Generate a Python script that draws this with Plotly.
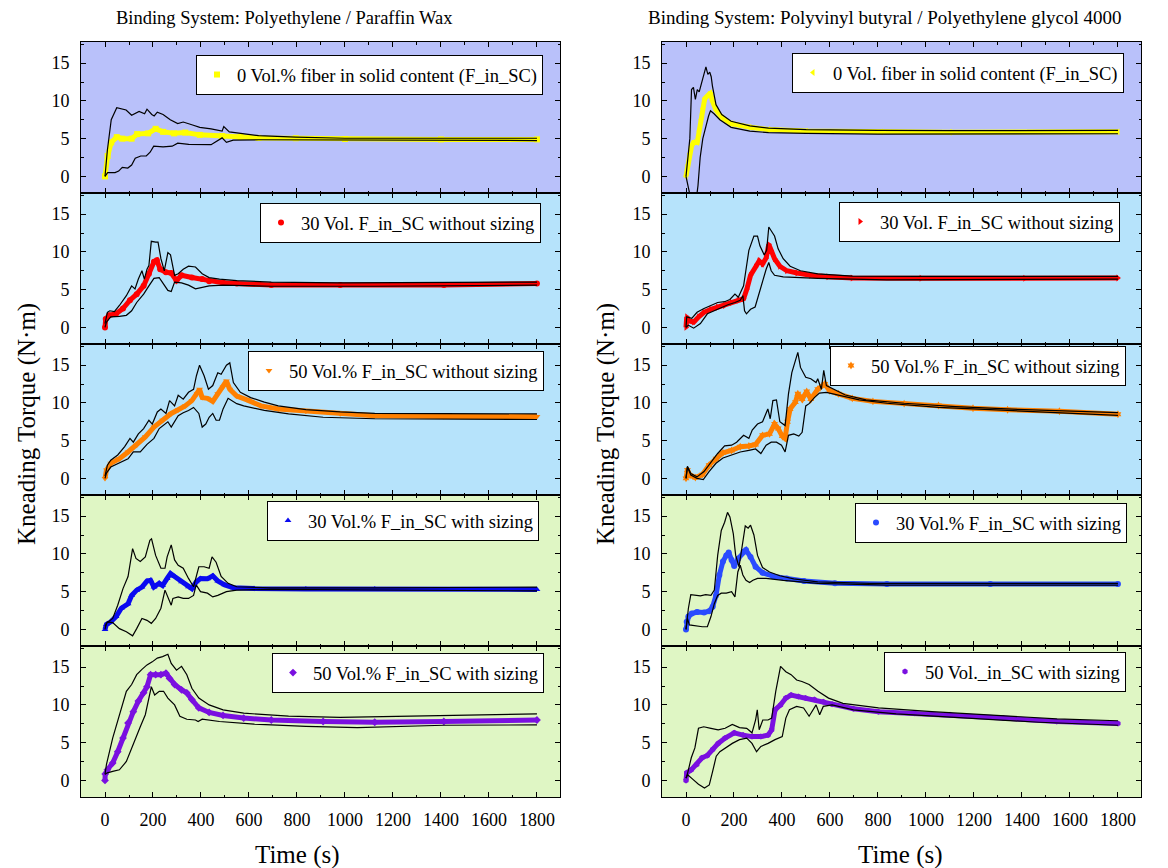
import plotly.graph_objects as go

W, H = 1168, 868
FONT = "Liberation Serif"

# ---------------- Binding system PE / paraffin wax (left column) ----------------
pe00_t = [0, 11, 26, 49, 72, 111, 134, 180, 211, 242, 288, 334, 395, 488, 565, 640, 795, 1000, 1400, 1800]
pe00_v = [0, 2.7, 4.5, 5.2, 5.0, 5.0, 5.6, 5.7, 6.3, 5.9, 5.7, 5.8, 5.5, 5.35, 5.25, 5.1, 5.05, 4.95, 4.9, 4.9]
pe00_hi_t = [0, 10, 26, 49, 88, 111, 142, 165, 175, 195, 205, 218, 242, 272, 303, 326, 365, 395, 442, 488, 495, 518, 565, 640, 795, 1000, 1800]
pe00_hi_v = [0, 3.5, 7.5, 9.1, 8.8, 8.1, 8.6, 8.3, 8.9, 8.2, 8.0, 8.5, 8.2, 7.5, 7.0, 7.2, 6.8, 6.5, 6.3, 6.0, 6.6, 5.9, 5.7, 5.4, 5.2, 5.05, 5.05]
pe00_lo_t = [0, 11, 42, 57, 72, 95, 111, 126, 149, 172, 188, 203, 242, 280, 303, 349, 442, 465, 488, 506, 534, 640, 1000, 1800]
pe00_lo_v = [0, 0.5, 0.5, 0.7, 1.2, 1.1, 1.5, 2.4, 2.7, 2.7, 3.2, 4.0, 3.9, 4.0, 4.4, 4.25, 4.2, 4.6, 5.1, 4.5, 4.8, 4.85, 4.8, 4.75]

pe30_t = [0, 3, 17, 46, 75, 104, 132, 161, 183, 204, 216, 230, 254, 276, 298, 319, 362, 405, 434, 492, 549, 693, 980, 1412, 1800]
pe30_v = [0, 1.1, 1.6, 1.8, 2.5, 3.6, 4.4, 5.5, 7.1, 8.7, 8.9, 7.7, 7.3, 7.2, 6.2, 6.9, 6.6, 6.4, 6.1, 5.9, 5.8, 5.6, 5.6, 5.6, 5.8]
pe30_hi_t = [0, 10, 20, 39, 60, 89, 111, 125, 139, 154, 164, 175, 183, 193, 211, 221, 233, 247, 262, 273, 290, 305, 326, 348, 377, 405, 434, 477, 549, 693, 980, 1800]
pe30_hi_v = [0.5, 2.0, 2.2, 2.1, 2.9, 4.2, 5.5, 5.1, 6.4, 7.5, 6.4, 7.7, 8.2, 11.4, 11.3, 11.3, 9.1, 7.5, 9.9, 9.6, 6.9, 7.1, 7.7, 8.1, 8.0, 7.1, 6.6, 6.4, 6.2, 6.0, 5.9, 6.0]
pe30_lo_t = [0, 6, 24, 60, 89, 111, 132, 161, 183, 204, 226, 240, 262, 276, 290, 319, 348, 377, 405, 434, 492, 693, 1124, 1800]
pe30_lo_v = [0, 0.7, 1.4, 1.45, 1.6, 2.2, 3.3, 4.4, 5.5, 6.5, 6.6, 6.0, 4.9, 4.75, 6.0, 5.9, 5.6, 5.1, 5.3, 5.5, 5.6, 5.45, 5.45, 5.6]

pe50_t = [0, 6, 24, 60, 96, 132, 168, 204, 240, 276, 305, 334, 362, 384, 394, 405, 427, 449, 470, 492, 506, 520, 549, 592, 650, 722, 837, 980, 1124, 1412, 1800]
pe50_v = [0, 1.1, 2.0, 2.6, 3.5, 4.4, 5.5, 6.8, 7.7, 8.6, 9.1, 9.6, 10.3, 11.2, 11.8, 10.7, 10.6, 10.2, 11.2, 12.1, 12.9, 11.8, 10.9, 10.4, 9.6, 9.2, 8.9, 8.55, 8.3, 8.2, 8.2]
pe50_hi_t = [0, 10, 24, 53, 82, 104, 118, 139, 161, 183, 197, 218, 233, 254, 269, 290, 305, 326, 348, 369, 381, 394, 413, 431, 449, 470, 484, 506, 520, 535, 564, 607, 664, 722, 837, 980, 1124, 1800]
pe50_hi_v = [0.3, 1.75, 2.4, 3.1, 4.2, 5.3, 4.8, 5.9, 6.6, 7.7, 7.2, 8.8, 9.2, 8.6, 10.3, 9.6, 11.0, 10.5, 11.4, 11.8, 13.6, 15.0, 13.6, 11.8, 12.3, 14.0, 13.8, 15.0, 15.3, 12.7, 11.4, 10.7, 10.1, 9.6, 9.1, 8.8, 8.6, 8.55]
pe50_lo_t = [0, 6, 24, 60, 96, 118, 147, 175, 204, 226, 244, 262, 276, 290, 305, 326, 348, 369, 391, 405, 420, 434, 449, 463, 477, 492, 513, 549, 578, 664, 765, 909, 1124, 1800]
pe50_lo_v = [0, 0.7, 1.5, 2.0, 2.6, 3.5, 3.5, 4.5, 5.3, 6.6, 7.0, 7.5, 6.8, 7.5, 8.3, 8.7, 9.0, 9.4, 8.6, 6.8, 7.2, 8.1, 8.6, 7.7, 7.7, 9.2, 10.6, 9.9, 9.6, 9.0, 8.55, 8.1, 7.9, 7.8]

pe30s_t = [0, 6, 24, 46, 68, 96, 111, 132, 154, 175, 190, 204, 226, 240, 259, 273, 290, 319, 348, 362, 380, 398, 427, 449, 470, 499, 535, 621, 837, 1124, 1800]
pe30s_v = [0, 0.65, 1.0, 1.7, 2.8, 3.4, 4.5, 5.2, 5.6, 6.4, 6.5, 5.6, 6.1, 5.8, 6.75, 7.4, 7.0, 6.3, 5.65, 5.4, 6.3, 6.75, 6.7, 7.1, 6.4, 5.9, 5.5, 5.4, 5.35, 5.35, 5.3]
pe30s_hi_t = [0, 6, 32, 53, 75, 96, 115, 129, 147, 168, 187, 194, 211, 233, 250, 259, 276, 290, 305, 326, 348, 369, 391, 413, 434, 446, 463, 484, 513, 549, 693, 1124, 1800]
pe30s_hi_v = [0, 0.8, 1.45, 3.2, 5.4, 7.0, 10.7, 9.4, 9.0, 9.6, 11.8, 12.0, 9.8, 8.1, 8.1, 9.6, 11.2, 9.2, 8.5, 8.1, 6.75, 5.65, 8.3, 8.3, 8.1, 9.6, 8.9, 7.0, 6.1, 5.65, 5.5, 5.5, 5.6]
pe30s_lo_t = [0, 10, 32, 60, 89, 115, 132, 154, 175, 193, 211, 233, 250, 262, 276, 283, 305, 326, 348, 369, 380, 398, 427, 449, 470, 506, 549, 693, 1124, 1800]
pe30s_lo_v = [0.4, 1.0, 0.9, 0.1, -0.3, -0.85, 0.1, 1.45, 1.2, 0.8, 1.45, 2.8, 5.2, 4.3, 3.2, 4.1, 4.3, 4.1, 4.1, 4.5, 5.9, 5.0, 4.8, 4.3, 4.5, 5.0, 5.2, 5.3, 5.2, 5.1]

pe50s_t = [0, 1, 10, 32, 53, 75, 96, 118, 139, 161, 175, 190, 211, 233, 254, 269, 290, 319, 341, 362, 391, 434, 492, 578, 693, 909, 1124, 1412, 1800]
pe50s_v = [0, 0.85, 1.4, 2.3, 3.8, 5.6, 7.6, 9.1, 10.5, 11.6, 12.4, 14.0, 14.0, 14.0, 14.2, 13.5, 12.7, 12.0, 11.6, 10.7, 9.6, 9.0, 8.6, 8.25, 8.0, 7.8, 7.7, 7.8, 8.0]
pe50s_hi_t = [0, 6, 32, 60, 89, 111, 132, 154, 175, 197, 218, 240, 262, 276, 298, 319, 341, 362, 391, 434, 492, 578, 765, 980, 1268, 1800]
pe50s_hi_v = [0.8, 2.1, 5.6, 8.5, 11.8, 12.7, 14.0, 14.7, 15.3, 15.7, 16.2, 16.4, 16.7, 15.5, 14.6, 15.1, 14.0, 12.2, 10.9, 10.0, 9.35, 8.9, 8.5, 8.35, 8.5, 8.8]
pe50s_lo_t = [0, 10, 32, 60, 89, 118, 147, 168, 183, 193, 207, 226, 244, 262, 290, 312, 341, 377, 388, 405, 477, 621, 837, 1052, 1412, 1800]
pe50s_lo_v = [0.8, 1.0, 1.2, 1.4, 2.5, 4.9, 7.1, 8.7, 11.1, 12.4, 11.3, 11.8, 11.8, 10.9, 10.0, 8.5, 8.1, 8.0, 7.8, 8.1, 7.8, 7.45, 7.15, 7.0, 7.3, 7.35]

# ---------------- Binding system PVB / PEG 4000 (right column) ----------------
pvb00_t = [0, 8, 16, 23, 31, 47, 55, 63, 70, 78, 94, 102, 110, 125, 149, 188, 266, 344, 501, 814, 1100, 1800]
pvb00_v = [0, 1.5, 3.0, 4.0, 4.5, 4.5, 6.0, 7.5, 9.0, 10.3, 10.8, 11.1, 10.0, 8.8, 7.8, 7.0, 6.5, 6.2, 6.0, 5.9, 5.85, 5.9]
pvb00_hi_t = [0, 16, 23, 31, 39, 47, 55, 63, 70, 83, 91, 99, 105, 110, 125, 149, 188, 266, 344, 501, 800, 1100, 1800]
pvb00_hi_v = [0, 5.0, 11.5, 11.8, 10.2, 11.5, 11.2, 12.2, 13.0, 14.5, 13.5, 13.8, 13.2, 12.0, 9.5, 8.2, 7.3, 6.7, 6.4, 6.2, 6.1, 6.05, 6.1]
pvb00_lo_t = [0, 11, 20, 35, 45, 50, 59, 70, 81, 94, 102, 117, 141, 188, 266, 344, 501, 800, 1800]
pvb00_lo_v = [0, -1.5, -3.0, -3.5, -2.5, -1.2, 2.5, 5.0, 6.5, 8.0, 8.7, 8.3, 7.5, 6.5, 6.0, 5.8, 5.7, 5.6, 5.65]

pvb30_t = [0, 3, 10, 32, 53, 75, 104, 132, 161, 190, 218, 240, 254, 269, 290, 305, 319, 334, 345, 355, 369, 391, 420, 463, 520, 592, 693, 980, 1412, 1800]
pvb30_v = [0, 1.4, 0.9, 0.7, 1.4, 2.0, 2.4, 2.7, 2.9, 3.3, 3.6, 3.8, 5.1, 6.9, 8.0, 8.8, 8.4, 9.2, 11.0, 10.2, 9.1, 8.1, 7.5, 7.2, 6.9, 6.7, 6.55, 6.5, 6.5, 6.55]
pvb30_hi_t = [0, 3, 24, 46, 75, 104, 132, 161, 183, 204, 218, 240, 262, 283, 298, 308, 326, 336, 345, 359, 369, 384, 405, 434, 477, 549, 693, 980, 1800]
pvb30_hi_v = [0, 1.4, 1.2, 2.0, 2.5, 2.9, 3.3, 3.4, 3.7, 4.4, 4.0, 5.5, 10.2, 12.1, 12.1, 10.8, 9.6, 10.2, 13.3, 12.6, 12.1, 10.4, 9.1, 8.1, 7.5, 7.1, 6.8, 6.75, 6.75]
pvb30_lo_t = [0, 10, 32, 60, 89, 118, 147, 175, 204, 226, 237, 244, 252, 269, 288, 302, 319, 334, 345, 355, 369, 405, 549, 837, 1800]
pvb30_lo_v = [0, 0.3, -0.1, 0.5, 1.8, 2.2, 2.7, 3.0, 3.3, 3.6, 4.2, 2.2, 1.8, 2.4, 2.7, 4.2, 6.2, 7.7, 8.6, 7.5, 6.9, 6.7, 6.5, 6.3, 6.4]

pvb50_t = [0, 6, 17, 39, 68, 96, 125, 154, 190, 226, 262, 290, 319, 348, 369, 384, 401, 413, 423, 434, 456, 466, 484, 503, 520, 549, 578, 599, 635, 693, 779, 909, 1052, 1196, 1340, 1556, 1800]
pvb50_v = [0, 1.1, 0.4, 0.1, 0.5, 1.75, 2.6, 3.4, 3.7, 4.2, 4.3, 4.5, 5.7, 5.9, 7.2, 6.6, 5.6, 5.3, 7.5, 9.2, 10.1, 11.2, 10.5, 11.5, 10.5, 11.8, 12.5, 11.6, 11.2, 10.6, 10.2, 9.9, 9.65, 9.3, 9.1, 8.9, 8.5]
pvb50_hi_t = [0, 6, 20, 46, 75, 104, 132, 161, 190, 211, 240, 262, 276, 298, 319, 341, 351, 362, 377, 391, 413, 427, 441, 466, 477, 499, 520, 542, 549, 564, 574, 585, 614, 664, 750, 909, 1124, 1412, 1800]
pvb50_hi_v = [0, 1.6, 0.65, 0.2, 0.9, 2.2, 3.3, 4.3, 4.4, 4.8, 5.7, 5.3, 6.4, 7.2, 7.5, 9.2, 7.9, 10.3, 10.4, 7.5, 7.0, 11.2, 14.0, 16.7, 14.7, 13.4, 13.2, 12.7, 13.2, 11.8, 14.3, 12.3, 11.8, 11.05, 10.4, 9.95, 9.5, 9.1, 8.7]
pvb50_lo_t = [0, 6, 20, 46, 72, 96, 125, 154, 190, 226, 262, 290, 312, 334, 355, 377, 398, 413, 427, 449, 470, 484, 499, 513, 535, 556, 585, 635, 722, 837, 1052, 1340, 1800]
pvb50_lo_v = [0, 1.5, 0.45, 0, -0.15, 0.9, 2.0, 2.7, 3.1, 3.5, 3.7, 3.9, 3.3, 4.4, 4.8, 4.8, 4.4, 3.5, 5.7, 5.9, 5.6, 6.1, 9.6, 9.9, 10.7, 11.3, 11.4, 11.05, 10.4, 9.95, 9.4, 9.0, 8.35]

pvb30s_t = [0, 3, 10, 24, 46, 75, 96, 111, 125, 139, 154, 168, 178, 190, 201, 218, 240, 250, 269, 290, 319, 362, 420, 492, 621, 837, 1268, 1800]
pvb30s_v = [0, 1.0, 1.7, 2.1, 2.3, 2.25, 2.4, 3.0, 4.5, 7.2, 9.0, 9.8, 10.2, 9.2, 8.4, 9.4, 10.3, 10.5, 9.6, 8.3, 7.5, 7.05, 6.75, 6.4, 6.1, 6.0, 6.0, 6.0]
pvb30s_hi_t = [0, 10, 20, 39, 60, 82, 104, 118, 132, 147, 161, 173, 183, 197, 207, 221, 236, 247, 259, 269, 283, 298, 319, 348, 391, 449, 549, 765, 1800]
pvb30s_hi_v = [0, 2.8, 4.6, 4.5, 4.45, 4.6, 4.5, 5.2, 9.8, 13.1, 14.2, 15.5, 14.9, 12.7, 9.8, 8.3, 11.8, 13.7, 13.4, 13.8, 12.5, 9.8, 8.2, 7.6, 7.1, 6.7, 6.3, 6.1, 6.1]
pvb30s_lo_t = [0, 6, 14, 39, 68, 89, 104, 118, 132, 147, 168, 190, 204, 216, 226, 237, 250, 265, 279, 298, 334, 405, 549, 837, 1800]
pvb30s_lo_v = [0, 1.45, 0.6, 0.45, 0.35, 0.35, 1.7, 3.4, 4.5, 4.8, 4.8, 5.0, 4.3, 7.6, 8.5, 7.2, 6.5, 6.2, 6.5, 6.75, 6.75, 6.5, 6.1, 5.85, 5.85]

pvb50s_t = [0, 3, 22, 45, 67, 89, 111, 134, 163, 201, 238, 275, 312, 342, 357, 371, 394, 416, 438, 468, 498, 535, 572, 609, 698, 802, 951, 1100, 1322, 1545, 1800]
pvb50s_v = [0, 1.0, 1.4, 2.1, 3.0, 3.3, 4.1, 4.9, 5.6, 6.3, 6.0, 5.8, 5.8, 6.0, 6.7, 9.35, 10.0, 10.9, 11.3, 11.1, 10.9, 10.7, 10.4, 10.1, 9.5, 9.1, 8.9, 8.7, 8.25, 7.8, 7.55]
pvb50s_hi_t = [0, 7, 22, 37, 52, 74, 104, 134, 163, 193, 223, 253, 275, 290, 297, 305, 320, 342, 357, 374, 394, 416, 438, 461, 483, 513, 550, 594, 654, 802, 1025, 1322, 1545, 1800]
pvb50s_hi_v = [0.3, 1.0, 3.0, 4.3, 6.9, 7.1, 6.9, 6.7, 6.9, 7.4, 7.0, 6.9, 6.3, 8.0, 9.35, 6.7, 8.0, 8.0, 8.25, 11.8, 15.1, 14.4, 14.0, 13.3, 13.1, 12.7, 11.8, 10.9, 10.2, 9.6, 9.1, 8.6, 8.15, 7.9]
pvb50s_lo_t = [0, 7, 30, 52, 77, 97, 111, 126, 141, 163, 193, 223, 253, 275, 294, 312, 342, 371, 401, 416, 431, 461, 490, 513, 542, 557, 572, 609, 698, 876, 1174, 1471, 1800]
pvb50s_lo_v = [0.3, 0.75, 0.1, -0.5, -1.0, -0.6, 1.2, 3.2, 3.8, 4.3, 4.9, 5.4, 5.6, 4.9, 3.8, 4.5, 4.9, 5.4, 5.8, 8.25, 9.35, 9.8, 9.6, 8.5, 10.0, 8.7, 9.8, 10.0, 9.35, 8.8, 8.25, 7.7, 7.3]

# ---------------- panel descriptions ----------------
left_names = [
    "0 Vol.% fiber in solid content (F_in_SC)",
    "30 Vol. F_in_SC without sizing",
    "50 Vol.% F_in_SC without sizing",
    "30 Vol.% F_in_SC with sizing",
    "50 Vol.% F_in_SC with sizing",
]
right_names = [
    "0 Vol. fiber in solid content (F_in_SC)",
    "30 Vol. F_in_SC without sizing",
    "50 Vol.% F_in_SC without sizing",
    "30 Vol.% F_in_SC with sizing",
    "50 Vol._in_SC with sizing",
]
left_series = [
    (pe00_t, pe00_v, pe00_hi_t, pe00_hi_v, pe00_lo_t, pe00_lo_v),
    (pe30_t, pe30_v, pe30_hi_t, pe30_hi_v, pe30_lo_t, pe30_lo_v),
    (pe50_t, pe50_v, pe50_hi_t, pe50_hi_v, pe50_lo_t, pe50_lo_v),
    (pe30s_t, pe30s_v, pe30s_hi_t, pe30s_hi_v, pe30s_lo_t, pe30s_lo_v),
    (pe50s_t, pe50s_v, pe50s_hi_t, pe50s_hi_v, pe50s_lo_t, pe50s_lo_v),
]
right_series = [
    (pvb00_t, pvb00_v, pvb00_hi_t, pvb00_hi_v, pvb00_lo_t, pvb00_lo_v),
    (pvb30_t, pvb30_v, pvb30_hi_t, pvb30_hi_v, pvb30_lo_t, pvb30_lo_v),
    (pvb50_t, pvb50_v, pvb50_hi_t, pvb50_hi_v, pvb50_lo_t, pvb50_lo_v),
    (pvb30s_t, pvb30s_v, pvb30s_hi_t, pvb30s_hi_v, pvb30s_lo_t, pvb30s_lo_v),
    (pvb50s_t, pvb50s_v, pvb50s_hi_t, pvb50s_hi_v, pvb50s_lo_t, pvb50s_lo_v),
]
row_colors = ["#FFFF00", "#FF0000", "#FF8000", "#0A0AF0", "#7A10E0"]
right_colors = ["#FFFF00", "#FF0000", "#FF8000", "#2A4BFF", "#7A10E0"]
left_symbols = ["square", "circle", "triangle-down", "triangle-up", "diamond"]
right_symbols = ["triangle-left", "triangle-right", "hexagram", "circle", "hexagon"]
panel_bg = ["#B9C1FA", "#B6E3FB", "#B6E3FB", "#DFF6C4", "#DFF6C4"]

# legend boxes: right edge / top edge in pixels
left_leg = [(543, 55), (541, 203), (544, 351), (539, 501), (544, 653)]
right_leg = [(1124, 53), (1120, 202), (1126, 346), (1127, 503), (1126, 652)]

# ---------------- geometry ----------------
X_DOM = [[81 / W, 560 / W], [662 / W, 1141 / W]]
PANEL_TOP0, PANEL_H = 42, 151
TICK_FONT = dict(family=FONT, size=18, color="black")


def y_dom(i):
    top = PANEL_TOP0 + PANEL_H * i
    return [1 - (top + PANEL_H) / H, 1 - top / H]


fig = go.Figure()
layout = dict(
    width=W, height=H,
    margin=dict(l=0, r=0, t=0, b=0),
    paper_bgcolor="white",
    plot_bgcolor="rgba(0,0,0,0)",
    font=dict(family=FONT, size=16, color="black"),
    shapes=[], annotations=[],
)

for c in range(2):
    names = left_names if c == 0 else right_names
    series = left_series if c == 0 else right_series
    colors = row_colors if c == 0 else right_colors
    symbols = left_symbols if c == 0 else right_symbols
    legpos = left_leg if c == 0 else right_leg
    for i in range(5):
        k = c * 5 + i + 1
        sx = "" if k == 1 else str(k)
        xname, yname, lname = "x" + sx, "y" + sx, "legend" + sx
        bottom = i == 4
        layout["xaxis" + sx] = dict(
            domain=X_DOM[c], anchor=yname, range=[-100, 1896],
            tickmode="array", tickvals=list(range(0, 1801, 200)),
            showticklabels=bottom, ticks="inside", ticklen=5, tickwidth=1.2,
            tickcolor="black", minor=dict(dtick=100, tick0=0, ticks="inside", ticklen=2.5, tickwidth=1.2, tickcolor="black"),
            showline=True, linecolor="black", linewidth=1, mirror="ticks",
            showgrid=False, zeroline=False, automargin=False,
            tickfont=TICK_FONT, ticklabelstandoff=6,
        )
        layout["yaxis" + sx] = dict(
            domain=y_dom(i), anchor=xname, range=[-2.2, 17.8],
            tickmode="array", tickvals=[0, 5, 10, 15],
            ticks="inside", ticklen=5, tickwidth=1.2, tickcolor="black",
            minor=dict(tickvals=[-2.5, 2.5, 7.5, 12.5, 17.5], ticks="inside", ticklen=2.5, tickwidth=1.2, tickcolor="black"),
            showline=True, linecolor="black", linewidth=1, mirror="ticks",
            showgrid=False, zeroline=False, automargin=False,
            tickfont=TICK_FONT, ticklabelstandoff=7,
        )
        layout["shapes"].append(dict(
            type="rect", xref=xname + " domain", yref=yname + " domain",
            x0=0, x1=1, y0=0, y1=1, fillcolor=panel_bg[i], line=dict(width=0), layer="below",
        ))
        rx, ty = legpos[i]
        layout[lname] = dict(
            x=rx / W, y=1 - ty / H, xanchor="right", yanchor="top",
            bgcolor="white", bordercolor="black", borderwidth=1,
            font=dict(family=FONT, size=18.5, color="black"), itemwidth=30,
        )

        t, v, ht, hv, lt, lv = series[i]
        # measured torque as a thick coloured band
        fig.add_trace(go.Scatter(
            x=t, y=v, xaxis=xname, yaxis=yname, mode="lines",
            line=dict(color=colors[i], width=5), showlegend=False, hoverinfo="skip",
        ))
        fig.add_trace(go.Scatter(
            x=t, y=v, xaxis=xname, yaxis=yname, mode="markers", name=names[i],
            marker=dict(color=colors[i], symbol=symbols[i], size=6, line=dict(width=0)),
            legend=lname, showlegend=True,
        ))
        # upper / lower scatter bounds
        for bt, bv in ((ht, hv), (lt, lv)):
            fig.add_trace(go.Scatter(
                x=bt, y=bv, xaxis=xname, yaxis=yname, mode="lines",
                line=dict(color="black", width=1.2), showlegend=False, hoverinfo="skip",
            ))


def label(text, px, py, size, angle=0):
    return dict(text=text, x=px / W, y=1 - py / H, xref="paper", yref="paper",
                xanchor="center", yanchor="middle", showarrow=False, textangle=angle,
                font=dict(family=FONT, size=size, color="black"))


# column titles and axis titles
layout["annotations"] += [
    label("Binding System: Polyethylene / Paraffin Wax", 284, 18, 18.5),
    label("Binding System: Polyvinyl butyral / Polyethylene glycol 4000", 884, 18, 19),
    label("Kneading Torque (N·m)", 27, 424, 25, -90),
    label("Kneading Torque (N·m)", 606, 424, 25, -90),
    label("Time (s)", 297, 855, 25),
    label("Time (s)", 901, 855, 25),
]

fig.update_layout(**layout)
fig.write_html("out.html")
